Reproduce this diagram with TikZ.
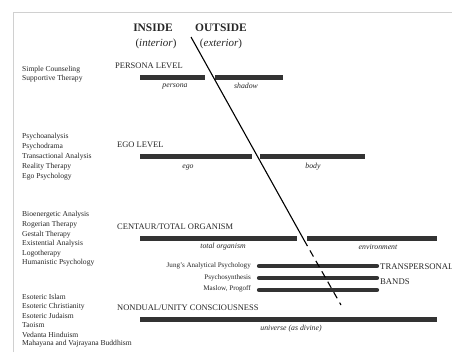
\documentclass[tikz,border=0pt]{standalone}
\usepackage{fontspec}
\setmainfont{Liberation Serif}
\definecolor{ink}{HTML}{262626}
\definecolor{barc}{HTML}{333333}
\definecolor{frame}{HTML}{D0D0D0}
\begin{document}
\begin{tikzpicture}[x=1bp,y=-1bp,
  lbl/.style={anchor=west, inner sep=0pt, font=\fontsize{7.6}{8}\selectfont, text=ink},
  lvl/.style={anchor=west, inner sep=0pt, font=\fontsize{8.5}{10}\selectfont, text=ink},
  sub/.style={inner sep=0pt, font=\fontsize{7.8}{9}\selectfont\itshape, text=ink},
  rlbl/.style={anchor=east, inner sep=0pt, font=\fontsize{7.1}{8}\selectfont, text=ink},
  bar/.style={line width=5bp, draw=barc},
  band/.style={line width=4.2bp, draw=barc, line cap=round},
  head/.style={inner sep=0pt, font=\fontsize{11.5}{13}\selectfont\bfseries, text=ink},
  headi/.style={inner sep=0pt, font=\fontsize{11}{13}\selectfont, text=ink},
  diag/.style={line width=1.1bp, draw=black}
]
\useasboundingbox (0,0) rectangle (452,352);
\fill[white] (0,0) rectangle (452,352);
% frame
\draw[frame, line width=0.8bp] (13,352) -- (13,12) -- (452,12);

% headings
\node[head] (inside) at (153,28) {INSIDE};
\node[head] (outside) at (221,28) {OUTSIDE};
\node[headi] (interior) at (156,44) {(\textit{interior})};
\node[headi] (exterior) at (221,44) {(\textit{exterior})};

% persona level
\node[lbl] (sc) at (22,70) {Simple Counseling};
\node[lbl] (st) at (22,79) {Supportive Therapy};
\node[lvl] (persona) at (115,66) {PERSONA LEVEL};
\coordinate (p1) at (140,77); \coordinate (p2) at (205,77);
\coordinate (p3) at (215,77); \coordinate (p4) at (283,77);
\draw[bar] (p1) -- (p2); \draw[bar] (p3) -- (p4);
\node[sub] (pers) at (175,86) {persona};
\node[sub] (shad) at (246,86) {shadow};

% ego level
\node[lbl] (e1) at (22,137) {Psychoanalysis};
\node[lbl] (e2) at (22,147) {Psychodrama};
\node[lbl] (e3) at (22,157) {Transactional Analysis};
\node[lbl] (e4) at (22,167) {Reality Therapy};
\node[lbl] (e5) at (22,177) {Ego Psychology};
\node[lvl] (ego) at (117,145) {EGO LEVEL};
\coordinate (g1) at (140,156); \coordinate (g2) at (252,156);
\coordinate (g3) at (260,156); \coordinate (g4) at (365,156);
\draw[bar] (g1) -- (g2); \draw[bar] (g3) -- (g4);
\node[sub] (egot) at (188,167) {ego};
\node[sub] (body) at (313,167) {body};

% centaur
\node[lbl] (c1) at (22,215) {Bioenergetic Analysis};
\node[lbl] (c2) at (22,224.6) {Rogerian Therapy};
\node[lbl] (c3) at (22,234.2) {Gestalt Therapy};
\node[lbl] (c4) at (22,243.8) {Existential Analysis};
\node[lbl] (c5) at (22,253.4) {Logotherapy};
\node[lbl] (c6) at (22,263) {Humanistic Psychology};
\node[lvl] (cent) at (117,227) {CENTAUR/TOTAL ORGANISM};
\coordinate (t1) at (140,238); \coordinate (t2) at (297,238);
\coordinate (t3) at (307,238); \coordinate (t4) at (437,238);
\draw[bar] (t1) -- (t2); \draw[bar] (t3) -- (t4);
\node[sub] (org) at (223,247) {total organism};
\node[sub] (env) at (378,247) {environment};

% transpersonal bands
\node[rlbl] (jung) at (251,266) {Jung's Analytical Psychology};
\node[rlbl] (psyn) at (251,277.5) {Psychosynthesis};
\node[rlbl] (masl) at (251,288.5) {Maslow, Progoff};
\coordinate (b1a) at (259,266); \coordinate (b1b) at (377,266);
\coordinate (b2a) at (259,278); \coordinate (b2b) at (377,278);
\coordinate (b3a) at (259,290); \coordinate (b3b) at (377,290);
\draw[band] (b1a) -- (b1b);
\draw[band] (b2a) -- (b2b);
\draw[band] (b3a) -- (b3b);
\node[lvl, font=\fontsize{8.7}{10}\selectfont] (trans) at (380,267) {TRANSPERSONAL};
\node[lvl, font=\fontsize{8.7}{10}\selectfont] (bands) at (380,282) {BANDS};

% nondual
\node[lbl] (n1) at (22,297) {Esoteric Islam};
\node[lbl] (n2) at (22,306.4) {Esoteric Christianity};
\node[lbl] (n3) at (22,315.8) {Esoteric Judaism};
\node[lbl] (n4) at (22,325.2) {Taoism};
\node[lbl] (n5) at (22,334.6) {Vedanta Hinduism};
\node[lbl] (n6) at (22,344) {Mahayana and Vajrayana Buddhism};
\node[lvl] (nond) at (117,308) {NONDUAL/UNITY CONSCIOUSNESS};
\coordinate (u1) at (140,319); \coordinate (u2) at (437,319);
\draw[bar] (u1) -- (u2);
\node[sub] (univ) at (291,329) {universe (as divine)};

% diagonal boundary
\coordinate (d0) at (191,37);
\coordinate (d1) at (304,240);
\coordinate (d2) at (341,305);
\draw[diag] (d0) -- (d1);
\draw[diag, dash pattern=on 7bp off 5bp] (d1) -- (d2);
\end{tikzpicture}
\end{document}
